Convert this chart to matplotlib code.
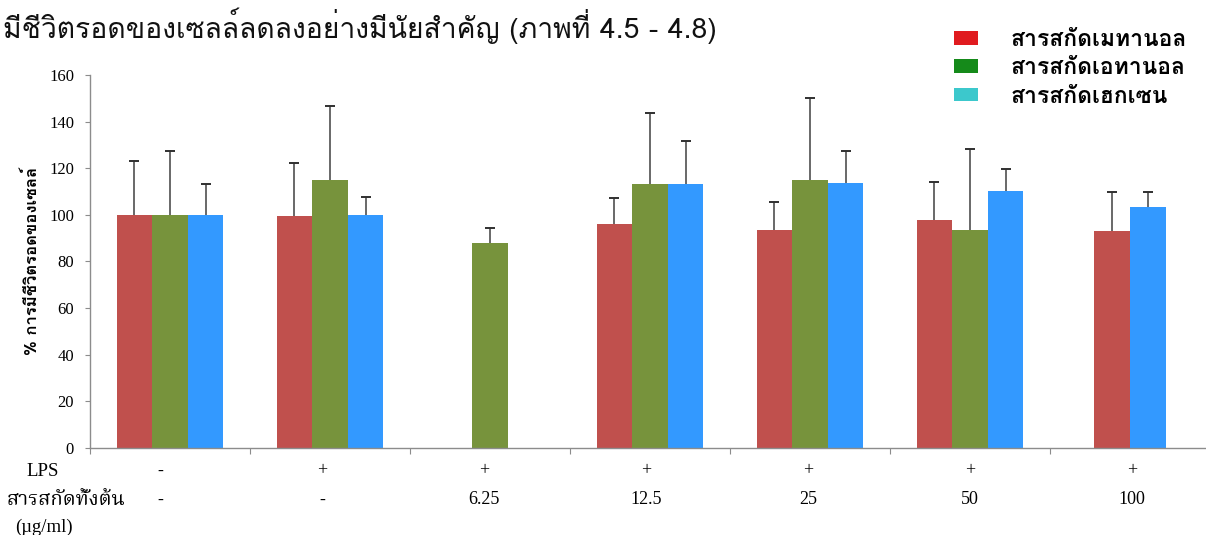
import numpy as np
import matplotlib
matplotlib.use("Agg")
import matplotlib.pyplot as plt
from matplotlib import font_manager, transforms
from matplotlib.ft2font import FT2Font
from matplotlib.patches import Patch

# --- data: % cell viability, mean and upper SD ---
groups_lps = ['-', '+', '+', '+', '+', '+', '+']
groups_dose = ['-', '-', '6.25', '12.5', '25', '50', '100']
series_names = ['สารสกัดเมทานอล', 'สารสกัดเอทานอล', 'สารสกัดเฮกเซน']
nan = np.nan
methanol = [100, 99.6, nan, 95.9, 93.6, 97.9, 93.0]
methanol_sd = [23.1, 22.5, nan, 11.2, 12.0, 16.3, 16.8]
ethanol = [100, 114.9, 87.8, 113.2, 114.9, 93.5, nan]
ethanol_sd = [27.5, 31.8, 6.4, 30.4, 35.3, 34.8, nan]
hexane = [100, 100, nan, 113.2, 113.7, 110.1, 103.2]
hexane_sd = [13.4, 7.8, nan, 18.4, 13.8, 9.6, 6.6]

bar_colors = ['#C0504D', '#77933C', '#3399FF']
legend_colors = ['#E01B1F', '#158A1A', '#3CC8CC']


# --- find a font that actually has Thai glyphs ---
def thai_fonts():
    found = []
    seen = set()
    for f in font_manager.fontManager.ttflist:
        if f.fname in seen:
            continue
        seen.add(f.fname)
        try:
            cmap = FT2Font(f.fname).get_charmap()
        except Exception:
            continue
        if 0x0E01 in cmap and f.name not in found:
            found.append(f.name)
    return found


thai = thai_fonts()
thai_main = thai[0] if thai else 'DejaVu Sans'
for pref in ['Loma', 'Garuda', 'Noto Sans Thai', 'Tlwg Typo', 'Waree', 'Sarabun', 'Umpush']:
    if pref in thai:
        thai_main = pref
        break
thai_serif = thai_main
for pref in ['Norasi', 'Noto Serif Thai', 'Laksaman', 'TH Sarabun New']:
    if pref in thai:
        thai_serif = pref
        break

sans = [thai_main, 'DejaVu Sans']
serif = ['Liberation Serif', thai_serif]

fig = plt.figure(figsize=(12.06, 5.35), dpi=100)
ax = fig.add_axes([90 / 1206, 87.3 / 535, 1120 / 1206, 372.7 / 535])

x = np.arange(len(groups_dose))
width = 0.222
all_vals = [methanol, ethanol, hexane]
all_sd = [methanol_sd, ethanol_sd, hexane_sd]

for gi in x:
    present = [si for si in range(3) if not np.isnan(all_vals[si][gi])]
    n = len(present)
    for k, si in enumerate(present):
        pos = gi + (k - (n - 1) / 2) * width
        v = all_vals[si][gi]
        top = v + all_sd[si][gi]
        ax.bar(pos, v, width=width, color=bar_colors[si], zorder=2)
        # upper SD only: stem plus a cap at the top end
        ax.errorbar(pos, v, yerr=[[0], [all_sd[si][gi]]], fmt='none',
                    ecolor='#404040', elinewidth=1.1, capsize=0, zorder=3)
        ax.plot(pos, top, marker='_', ms=7, mew=1.4, color='#303030',
                zorder=3)

ax.set_xlim(-0.5, len(x) - 0.5)
ax.set_ylim(0, 160)
ax.set_yticks(np.arange(0, 161, 20))
ax.set_xticks(np.arange(-0.5, len(x), 1.0))
ax.set_xticklabels([])
for s in ['top', 'right']:
    ax.spines[s].set_visible(False)
for s in ['left', 'bottom']:
    ax.spines[s].set_color('#8C8C8C')
    ax.spines[s].set_linewidth(1.0)
ax.tick_params(axis='y', direction='out', length=3.5, color='#8C8C8C', pad=8)
ax.tick_params(axis='x', direction='out', length=4, color='#8C8C8C')
for lab in ax.get_yticklabels():
    lab.set_family(serif)
    lab.set_fontsize(12)

ax.set_ylabel('% การมีชีวิตรอดของเซลล์', family=sans, fontsize=12,
              fontweight='bold')
ax.yaxis.set_label_coords(-0.045, 0.5)

# --- condition table under the bars ---
trans = transforms.blended_transform_factory(ax.transData, fig.transFigure)
for gi in x:
    lx = gi * 1.0125 - 0.0625
    ax.text(lx, 1 - 471 / 535, groups_lps[gi], transform=trans, ha='center',
            va='center', family=serif, fontsize=13)
    ax.text(lx, 1 - 500 / 535, groups_dose[gi], transform=trans, ha='center',
            va='center', family=serif, fontsize=13)
fig.text(43 / 1206, 1 - 471 / 535, 'LPS', ha='center', va='center',
         family=serif, fontsize=13.5)
fig.text(66 / 1206, 1 - 500 / 535, 'สารสกัดทั้งต้น', ha='center', va='center',
         family=[thai_serif, 'Liberation Serif'], fontsize=14.5)
fig.text(44 / 1206, 1 - 527 / 535, '(µg/ml)', ha='center', va='center',
         family=serif, fontsize=13.5)

# --- heading line above the chart ---
title = fig.text(3 / 1206, 1 - 38 / 535,
                 'มีชีวิตรอดของเซลล์ลดลงอย่างมีนัยสำคัญ (ภาพที่ 4.5 - 4.8)',
                 ha='left', va='baseline', family=sans, fontsize=20,
                 color='#111111')

# --- legend ---
handles = [Patch(facecolor=c, edgecolor='none') for c in legend_colors]
leg = fig.legend(handles, series_names, loc='upper left',
                 bbox_to_anchor=(938 / 1206, 1 - 14 / 535), frameon=False,
                 prop={'family': sans, 'weight': 'bold', 'size': 16.5},
                 handlelength=1.05, handleheight=0.55, handletextpad=1.4,
                 labelspacing=0.36, borderpad=0.2)

# scale the heading to its line width
fig.canvas.draw()
r = fig.canvas.get_renderer()
bb = title.get_window_extent(r)
title.set_fontsize(20 * 714 / bb.width)

fig.savefig('out.png', dpi=100)
